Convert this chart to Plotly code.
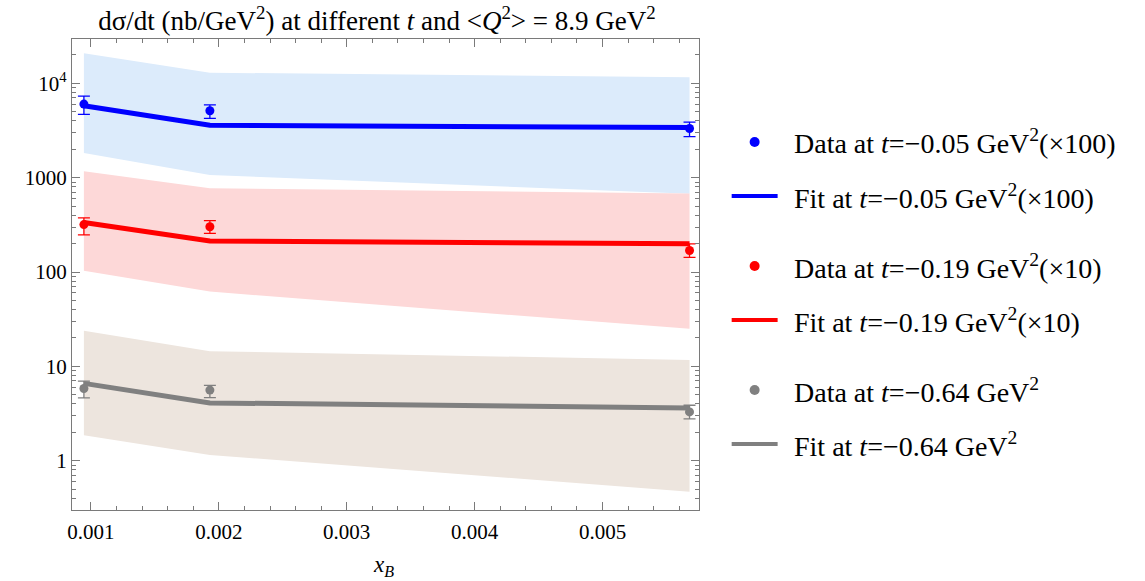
import plotly.graph_objects as go

# Bjorken-x bins
xb = [0.000945, 0.00193, 0.00568]

# t = -0.05 GeV^2 (scaled x100)
data_t005 = [6030, 5120, 3320]
data_t005_hi = [7330, 5910, 3890]
data_t005_lo = [4680, 4260, 2730]
fit_t005 = [5780, 3600, 3400]
band_t005_hi = [20800, 12970, 11580]
band_t005_lo = [1830, 1067, 676]

# t = -0.19 GeV^2 (scaled x10)
data_t019 = [318, 302, 169]
data_t019_hi = [375, 350, 199]
data_t019_lo = [248, 257, 143]
fit_t019 = [335, 213, 199]
band_t019_hi = [1167, 771, 680]
band_t019_lo = [103, 62, 25]

# t = -0.64 GeV^2
data_t064 = [5.83, 5.6, 3.29]
data_t064_hi = [6.98, 6.3, 3.87]
data_t064_lo = [4.64, 4.66, 2.77]
fit_t064 = [6.6, 4.1, 3.63]
band_t064_hi = [23.8, 14.5, 11.7]
band_t064_lo = [1.86, 1.15, 0.47]

y_tickvals = [1, 10, 100, 1000, 10000]
y_ticktext = ["1", "10", "100", "1000", "10<sup>4</sup>"]
x_tickvals = [0.001, 0.002, 0.003, 0.004, 0.005]
x_ticktext = ["0.001", "0.002", "0.003", "0.004", "0.005"]

legend_labels = [
    "Data at <i>t</i>=\u22120.05 GeV<sup>2</sup>(\u00d7100)",
    "Fit at <i>t</i>=\u22120.05 GeV<sup>2</sup>(\u00d7100)",
    "Data at <i>t</i>=\u22120.19 GeV<sup>2</sup>(\u00d710)",
    "Fit at <i>t</i>=\u22120.19 GeV<sup>2</sup>(\u00d710)",
    "Data at <i>t</i>=\u22120.64 GeV<sup>2</sup>",
    "Fit at <i>t</i>=\u22120.64 GeV<sup>2</sup>",
]

FONT = "'Liberation Serif', 'Times New Roman', 'DejaVu Serif', serif"
W, H = 1145, 581
L, R, T, B = 71.7, 699.3, 39, 510

series = [
    dict(d=data_t005, hi=data_t005_hi, lo=data_t005_lo, fit=fit_t005,
         bh=band_t005_hi, bl=band_t005_lo, color="#0000ff", band="#dcebfb"),
    dict(d=data_t019, hi=data_t019_hi, lo=data_t019_lo, fit=fit_t019,
         bh=band_t019_hi, bl=band_t019_lo, color="#ff0000", band="#fdd8d8"),
    dict(d=data_t064, hi=data_t064_hi, lo=data_t064_lo, fit=fit_t064,
         bh=band_t064_hi, bl=band_t064_lo, color="#808080", band="#ede5de"),
]

fig = go.Figure()

# uncertainty bands
for s in series:
    fig.add_trace(go.Scatter(x=xb, y=s["bl"], mode="lines", line=dict(width=0),
                             hoverinfo="skip", showlegend=False))
    fig.add_trace(go.Scatter(x=xb, y=s["bh"], mode="lines", line=dict(width=0),
                             fill="tonexty", fillcolor=s["band"],
                             hoverinfo="skip", showlegend=False))

# fit curves
for s in series:
    fig.add_trace(go.Scatter(x=xb, y=s["fit"], mode="lines",
                             line=dict(color=s["color"], width=5),
                             showlegend=False))

# data points with asymmetric errors
for s in series:
    fig.add_trace(go.Scatter(
        x=xb, y=s["d"], mode="markers",
        marker=dict(color=s["color"], size=9),
        error_y=dict(type="data", symmetric=False,
                     array=[h - v for h, v in zip(s["hi"], s["d"])],
                     arrayminus=[v - l for v, l in zip(s["d"], s["lo"])],
                     color=s["color"], thickness=1.3, width=6),
        showlegend=False))

# overlay axes to carry ticks on the top and right frame
fig.add_trace(go.Scatter(x=[xb[0]], y=[data_t064[0]], xaxis="x2", yaxis="y2",
                         mode="markers", marker=dict(opacity=0), hoverinfo="skip",
                         showlegend=False))

minor_log = [k * 10.0 ** e for e in range(-1, 5) for k in range(2, 10)]

x_range = [0.000852, 0.005754]
y_range = [-0.5225, 4.47]
axis_col = "#7a7a7a"

xcommon = dict(range=x_range, tickvals=x_tickvals, ticks="inside", ticklen=8,
               tickcolor=axis_col, tickwidth=1, showgrid=False, zeroline=False,
               showline=True, linecolor=axis_col, linewidth=1.3,
               minor=dict(dtick=0.0002, tick0=0, ticks="inside", ticklen=4,
                          tickcolor=axis_col, showgrid=False))
ycommon = dict(type="log", range=y_range, tickvals=y_tickvals, ticks="inside",
               ticklen=8, tickcolor=axis_col, tickwidth=1, showgrid=False,
               zeroline=False, showline=True, linecolor=axis_col, linewidth=1.3,
               minor=dict(tickmode="array", tickvals=minor_log, ticks="inside",
                          ticklen=4, tickcolor=axis_col, showgrid=False))

fig.update_layout(
    width=W, height=H,
    margin=dict(l=L, r=W - R, t=T, b=H - B),
    plot_bgcolor="white", paper_bgcolor="white",
    font=dict(family=FONT, size=21, color="black"),
    xaxis=dict(**xcommon, ticktext=x_ticktext, ticklabelstandoff=3,
               tickfont=dict(family=FONT, size=21, color="black")),
    yaxis=dict(**ycommon, ticktext=y_ticktext,
               tickfont=dict(family=FONT, size=21, color="black")),
    xaxis2=dict(**xcommon, overlaying="x", side="top", showticklabels=False,
                matches="x"),
    yaxis2=dict(**ycommon, overlaying="y", side="right", showticklabels=False),
    showlegend=False,
    title=dict(text="d\u03c3/dt (nb/GeV<sup>2</sup>) at different <i>t</i> and "
                    "&lt;<i>Q</i><sup>2</sup>&gt; = 8.9 GeV<sup>2</sup>",
               xref="container", yref="container", x=377 / W, y=1 - 21 / H,
               xanchor="center", yanchor="middle",
               font=dict(family=FONT, size=27, color="black")),
)

# x-axis title
fig.add_annotation(text="<i>x<sub>B</sub></i>", xref="paper", yref="paper",
                   x=(383 - L) / (R - L), y=(B - 566) / (B - T),
                   showarrow=False, xanchor="center", yanchor="middle",
                   font=dict(family=FONT, size=23, color="black"))


# hand-built legend to the right of the frame
def px(xp):
    return (xp - L) / (R - L)


def py(yp):
    return (B - yp) / (B - T)


legend_rows_y = [142, 196, 266, 320, 390, 444]
for i, (label, ry) in enumerate(zip(legend_labels, legend_rows_y)):
    col = series[i // 2]["color"]
    if i % 2 == 0:
        fig.add_shape(type="circle", xref="paper", yref="paper",
                      xsizemode="pixel", ysizemode="pixel",
                      xanchor=px(755), yanchor=py(ry),
                      x0=-5, x1=5, y0=-5, y1=5,
                      fillcolor=col, line=dict(width=0))
    else:
        fig.add_shape(type="line", xref="paper", yref="paper",
                      x0=px(732), x1=px(778), y0=py(ry), y1=py(ry),
                      line=dict(color=col, width=4))
    fig.add_annotation(text=label, xref="paper", yref="paper",
                       x=px(793), y=py(ry), showarrow=False, borderpad=0,
                       xanchor="left", yanchor="middle",
                       font=dict(family=FONT, size=28, color="black"))

fig.write_html("out.html")
